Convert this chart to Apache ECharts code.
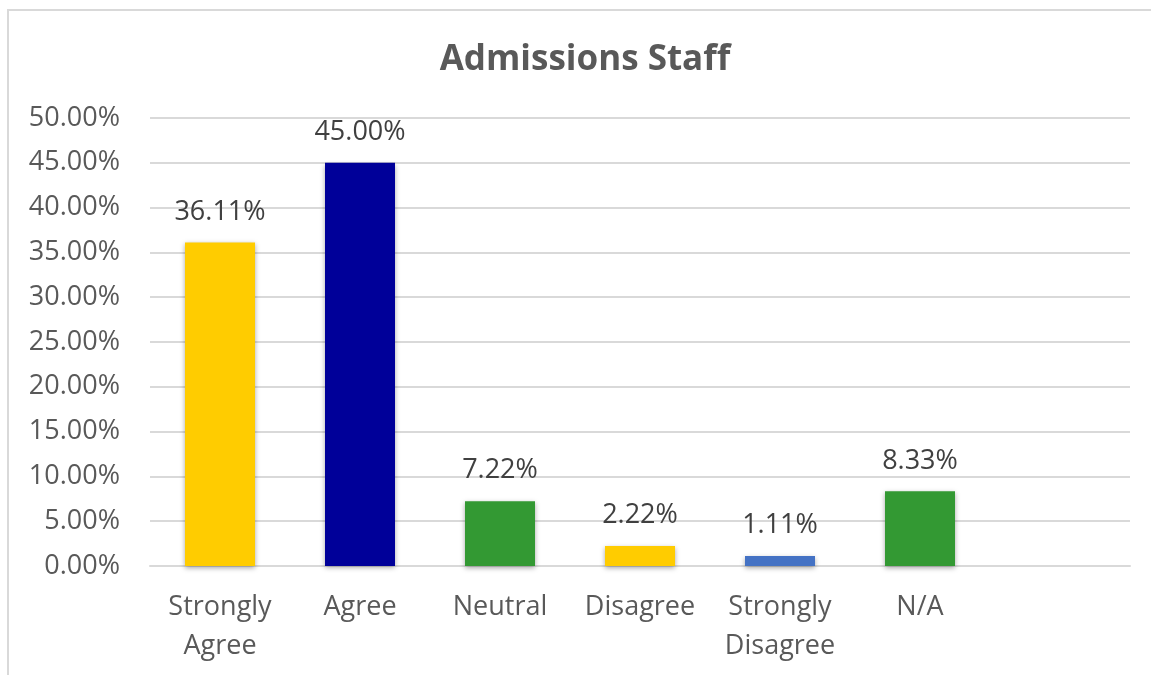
<!DOCTYPE html>
<html>
<head>
<meta charset="utf-8">
<script src="https://cdn.jsdelivr.net/npm/echarts@6/dist/echarts.min.js"></script>
<style>
  html, body { margin: 0; padding: 0; background: #fff; }
  #frame { position: absolute; left: 7px; top: 9px; width: 1200px; height: 700px; border-left: 2px solid #d9d9d9; border-top: 2px solid #d9d9d9; }
  #chart { position: absolute; left: 0; top: 0; width: 1151px; height: 675px; }
</style>
</head>
<body>
<div id="frame"></div>
<div id="chart"></div>
<script>
var categories = ['Strongly\nAgree', 'Agree', 'Neutral', 'Disagree', 'Strongly\nDisagree', 'N/A', ''];
var values = [36.11, 45.00, 7.22, 2.22, 1.11, 8.33, null];
var colors = ['#FFCC00', '#000099', '#339933', '#FFCC00', '#4472C4', '#339933', '#339933'];

var font = '"Open Sans", "Noto Sans", sans-serif';

var chart = echarts.init(document.getElementById('chart'));
chart.setOption({
  animation: false,
  title: {
    text: 'Admissions Staff',
    left: 580,
    top: 38,
    textAlign: 'center',
    textStyle: { fontFamily: font, fontSize: 35, fontWeight: 'bold', color: '#595959' }
  },
  grid: { left: 150, right: 21, top: 118, bottom: 109 },
  xAxis: {
    type: 'category',
    data: categories,
    axisLine: { lineStyle: { color: '#d9d9d9', width: 2 } },
    axisTick: { show: false },
    axisLabel: {
      interval: 0,
      margin: 22,
      fontFamily: font,
      fontSize: 27,
      color: '#595959',
      lineHeight: 39
    }
  },
  yAxis: {
    type: 'value',
    min: 0,
    max: 50,
    interval: 5,
    axisLine: { show: false },
    axisTick: { show: false },
    splitLine: { lineStyle: { color: '#d9d9d9', width: 2 } },
    axisLabel: {
      margin: 30,
      fontFamily: font,
      fontSize: 27,
      color: '#595959',
      formatter: function (v) { return v.toFixed(2) + '%'; }
    }
  },
  series: [{
    type: 'bar',
    barWidth: 70,
    data: values.map(function (v, i) {
      return { value: v, itemStyle: { color: colors[i] } };
    }),
    itemStyle: {
      shadowBlur: 5,
      shadowColor: 'rgba(0,0,0,0.35)',
      shadowOffsetY: 2
    },
    label: {
      show: true,
      position: 'top',
      distance: 17,
      fontFamily: font,
      fontSize: 27,
      color: '#404040',
      formatter: function (p) { return p.value == null ? '' : p.value.toFixed(2) + '%'; }
    }
  }]
});
</script>
</body>
</html>
